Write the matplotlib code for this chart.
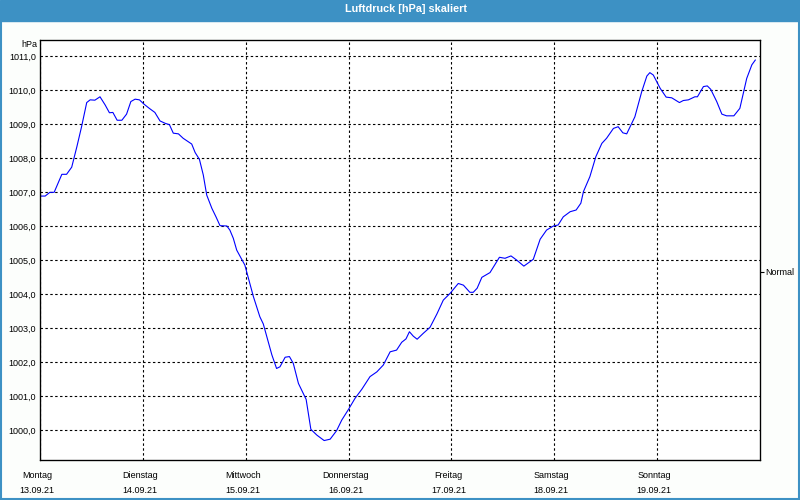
import matplotlib.pyplot as plt
import matplotlib.transforms as mtransforms

# Luftdruck, Stunden ab Montag 13.09.21 00:00
hours = [0.2, 1.2, 2.3, 3.3, 5.1, 6.2, 7.4, 8.6, 9.7, 10.9, 11.7, 12.8, 14.0, 15.2,
         16.2, 17.0, 18.0, 19.1, 20.2, 21.2, 22.2, 23.2, 24.3, 25.5, 26.8, 28.0,
         29.2, 30.2, 31.1, 32.3, 33.4, 34.6, 35.4, 36.2, 37.2, 38.1, 38.9, 40.1,
         41.1, 42.0, 43.6, 44.3, 45.1, 45.9, 47.8, 49.8, 51.3, 52.1, 54.1, 55.2,
         56.0, 57.2, 58.2, 59.1, 60.3, 62.1, 63.2, 64.6, 66.3, 67.7, 69.2, 70.4,
         71.9, 73.5, 75.1, 77.0, 78.6, 80.1, 81.7, 83.2, 84.4, 85.4, 86.2, 87.1,
         88.0, 89.4, 91.0, 92.6, 94.1, 95.7, 97.6, 98.8, 100.3, 101.1, 102.0,
         103.1, 105.0, 107.2, 108.5, 109.9, 111.2, 112.9, 115.1, 116.7, 118.2,
         119.8, 120.9, 122.1, 123.7, 125.1, 126.2, 126.8, 128.3, 129.7, 131.1,
         132.2, 133.8, 134.9, 136.0, 136.9, 138.8, 140.4, 141.6, 142.3, 143.1,
         144.7, 146.1, 147.4, 149.2, 150.1, 151.3, 152.8, 153.4, 154.8, 155.7,
         156.5, 157.9, 159.1, 160.2, 161.9, 163.3, 164.1, 164.9, 166.1, 166.9]
pressure = [1006.88, 1006.88, 1006.99, 1006.99, 1007.52, 1007.52, 1007.73, 1008.33,
            1008.92, 1009.63, 1009.71, 1009.70, 1009.80, 1009.56, 1009.33, 1009.34,
            1009.11, 1009.11, 1009.29, 1009.66, 1009.73, 1009.71, 1009.58, 1009.46,
            1009.34, 1009.09, 1009.02, 1008.98, 1008.73, 1008.71, 1008.58, 1008.48,
            1008.41, 1008.16, 1007.96, 1007.50, 1006.91, 1006.52, 1006.26, 1006.01,
            1006.00, 1005.88, 1005.64, 1005.29, 1004.85, 1003.92, 1003.33, 1003.12,
            1002.21, 1001.81, 1001.86, 1002.14, 1002.16, 1001.96, 1001.37, 1000.90,
            1000.02, 999.85, 999.69, 999.73, 999.98, 1000.29, 1000.59, 1000.93,
            1001.20, 1001.57, 1001.71, 1001.91, 1002.30, 1002.35, 1002.58, 1002.68,
            1002.89, 1002.76, 1002.67, 1002.84, 1003.02, 1003.41, 1003.82, 1004.02,
            1004.31, 1004.26, 1004.05, 1004.05, 1004.17, 1004.49, 1004.63, 1005.08,
            1005.05, 1005.12, 1005.00, 1004.82, 1005.02, 1005.61, 1005.88, 1006.00,
            1006.03, 1006.27, 1006.42, 1006.47, 1006.67, 1007.01, 1007.45, 1008.04,
            1008.43, 1008.58, 1008.87, 1008.92, 1008.74, 1008.71, 1009.21, 1009.95,
            1010.41, 1010.51, 1010.44, 1010.05, 1009.79, 1009.77, 1009.63, 1009.69,
            1009.71, 1009.80, 1009.80, 1010.10, 1010.12, 1010.02, 1009.66, 1009.29,
            1009.24, 1009.24, 1009.46, 1009.90, 1010.34, 1010.74, 1010.88]

day_names = ['Montag', 'Dienstag', 'Mittwoch', 'Donnerstag', 'Freitag', 'Samstag', 'Sonntag']
day_dates = ['13.09.21', '14.09.21', '15.09.21', '16.09.21', '17.09.21', '18.09.21', '19.09.21']
y_ticks = list(range(1000, 1012))
normal_level = 1004.65

frame_blue = '#3d91c4'
plt.rcParams['font.family'] = ['Liberation Sans', 'DejaVu Sans']

fig = plt.figure(figsize=(8, 5), dpi=100)
fig.patch.set_facecolor('#fcfefc')

# Titelleiste und Rahmen
fig.patches.append(plt.Rectangle((0, 0.959), 1, 0.041, transform=fig.transFigure,
                                 color=frame_blue, zorder=0))
fig.patches.append(plt.Rectangle((0.001, 0.002), 0.998, 0.97, transform=fig.transFigure,
                                 fill=False, edgecolor=frame_blue, lw=1.5, zorder=0))
fig.text(0.5075, 0.981, 'Luftdruck [hPa] skaliert', color='white', fontsize=7.8,
         fontweight='bold', ha='center', va='center')

ax = fig.add_axes([0.05, 0.08, 0.9, 0.84])
ax.set_facecolor('white')
ax.plot(hours, pressure, color='#0000ff', lw=0.8)

ax.set_xlim(0, 168)
ax.set_ylim(999.118, 1011.47)

ax.set_xticks([24 * i for i in range(len(day_names))])
ax.set_xticklabels([n + '\n' + d for n, d in zip(day_names, day_dates)],
                   fontsize=6.5, linespacing=1.9)
ax.set_yticks(y_ticks)
ax.set_yticklabels([f'{v},0' for v in y_ticks], fontsize=6.5)
ax.tick_params(axis='both', length=0)
ax.tick_params(axis='x', pad=8)
ax.tick_params(axis='y', pad=3)

shift = mtransforms.ScaledTranslation(-3 / 100, 0, fig.dpi_scale_trans)
for lab in ax.get_xticklabels():
    lab.set_transform(lab.get_transform() + shift)

ax.grid(True, color='black', lw=0.8, linestyle=(0, (2.2, 2.2)))
for s in ax.spines.values():
    s.set_linewidth(0.9)

ax.text(-0.004, 1.0, 'hPa', transform=ax.transAxes, ha='right', va='top',
        fontsize=6.5)

ax2 = ax.twinx()
ax2.set_ylim(ax.get_ylim())
ax2.set_yticks([normal_level])
ax2.set_yticklabels(['Normal'], fontsize=6.5)
ax2.tick_params(axis='y', length=3, width=0.8, pad=1)

fig.savefig('out.png', dpi=100, facecolor=fig.get_facecolor())
